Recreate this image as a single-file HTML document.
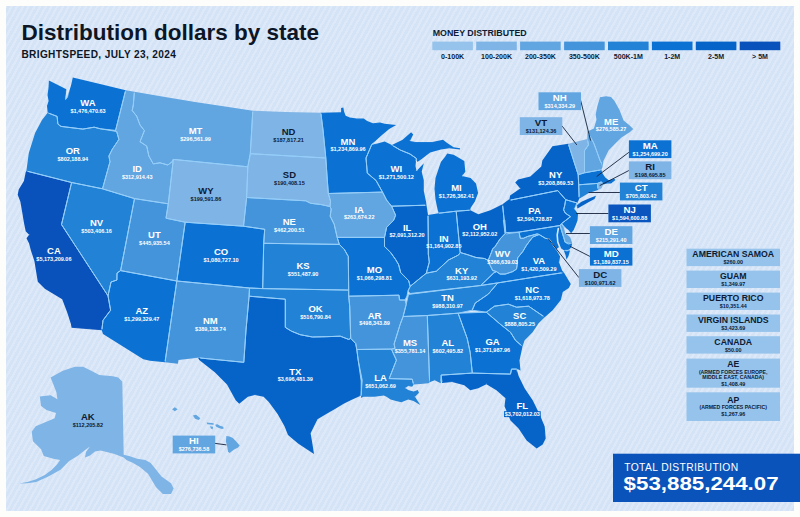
<!DOCTYPE html>
<html><head><meta charset="utf-8">
<style>
html,body{margin:0;padding:0;background:#fdfdfc;}
body{width:800px;height:517px;overflow:hidden;position:relative;font-family:"Liberation Sans",sans-serif;}
#panel{position:absolute;left:6px;top:6px;width:788px;height:505px;background:#d4e3f6;
 background-image:repeating-linear-gradient(-61deg, rgba(255,255,255,0) 0px, rgba(255,255,255,0) 2.8px, rgba(255,255,255,0.22) 2.8px, rgba(255,255,255,0.22) 5.0px);}
svg{position:absolute;left:0;top:0;}
.ab{font-weight:bold;font-size:8.8px;text-anchor:middle;}
.vl{font-weight:bold;font-size:5.3px;text-anchor:middle;}
.tt{font-weight:bold;font-size:9.6px;text-anchor:middle;fill:#0d1b33;}
.ts{font-weight:bold;font-size:5.2px;text-anchor:middle;fill:#0d1b33;}
.tv{font-weight:bold;font-size:5.4px;text-anchor:middle;fill:#0d1b33;}
.lg{font-weight:bold;font-size:6.3px;text-anchor:middle;fill:#0d1b33;}
#title{position:absolute;left:20px;top:15px;font-weight:bold;font-size:23.5px;color:#0d1626;white-space:nowrap;letter-spacing:0px;}
#sub{position:absolute;left:21px;top:49px;font-size:9.6px;color:#0d1626;white-space:nowrap;letter-spacing:0.6px;}
#total{position:absolute;left:613px;top:453.7px;width:187px;height:48.3px;background:#0a4fb5;color:#fff;}
#total .t1{position:absolute;left:11px;top:8px;font-size:9.4px;letter-spacing:0.6px;white-space:nowrap;}
#total .t2{position:absolute;left:10.5px;top:19px;font-size:18px;font-weight:bold;white-space:nowrap;}
</style></head><body>
<div id="panel"></div>
<svg width="800" height="517" viewBox="0 0 800 517">
<text x="21.6" y="39.75" font-weight="bold" font-size="22px" fill="#0d1626" textLength="297.5" lengthAdjust="spacingAndGlyphs">Distribution dollars by state</text>
<text x="21.4" y="57.6" font-weight="bold" font-size="10.1px" fill="#0d1626" textLength="154.5" lengthAdjust="spacing">BRIGHTSPEED, JULY 23, 2024</text>
<text x="432.7" y="36.25" font-weight="bold" font-size="9.3px" fill="#0d1b33" textLength="94" lengthAdjust="spacingAndGlyphs">MONEY DISTRIBUTED</text>
<rect x="432.3" y="41.6" width="40.6" height="8.6" fill="#96c3ec"/><text x="0" y="59.4" class="lg" transform="translate(452.60,0) scale(1.12,1)">0-100K</text><rect x="476.2" y="41.6" width="40.6" height="8.6" fill="#7fb4e6"/><text x="0" y="59.4" class="lg" transform="translate(496.52,0) scale(1.12,1)">100-200K</text><rect x="520.1" y="41.6" width="40.6" height="8.6" fill="#61a5e1"/><text x="0" y="59.4" class="lg" transform="translate(540.44,0) scale(1.12,1)">200-350K</text><rect x="564.1" y="41.6" width="40.6" height="8.6" fill="#4494dc"/><text x="0" y="59.4" class="lg" transform="translate(584.36,0) scale(1.12,1)">350-500K</text><rect x="608.0" y="41.6" width="40.6" height="8.6" fill="#2282d5"/><text x="0" y="59.4" class="lg" transform="translate(628.28,0) scale(1.12,1)">500K-1M</text><rect x="651.9" y="41.6" width="40.6" height="8.6" fill="#0b72d4"/><text x="0" y="59.4" class="lg" transform="translate(672.20,0) scale(1.12,1)">1-2M</text><rect x="695.8" y="41.6" width="40.6" height="8.6" fill="#0664c9"/><text x="0" y="59.4" class="lg" transform="translate(716.12,0) scale(1.12,1)">2-5M</text><rect x="739.7" y="41.6" width="40.6" height="8.6" fill="#0a52bb"/><text x="0" y="59.4" class="lg" transform="translate(760.04,0) scale(1.12,1)">> 5M</text>
<defs>
<filter id="er" filterUnits="userSpaceOnUse" x="0" y="0" width="800" height="517"><feMorphology operator="erode" radius="2.1"/></filter>
<mask id="inner" maskUnits="userSpaceOnUse" x="0" y="0" width="800" height="517"><g filter="url(#er)"><path d="M48.9 80.6 L57.0 84.5 L66.3 89.3 L65.6 99.5 L67.5 97.0 L71.0 85.5 L72.8 77.5 L100.0 84.0 L125.7 90.2 L115.6 130.4 L100.4 128.8 L94.2 127.2 L82.9 129.1 L61.0 126.4 L57.9 124.1 L57.1 116.4 L47.7 112.8 L47.0 106.0 L48.6 101.0 L47.5 95.0 L48.5 88.0Z M47.7 112.8 L57.1 116.4 L57.9 124.1 L61.0 126.4 L82.9 129.1 L94.2 127.2 L100.4 128.8 L116.7 131.5 L118.9 139.4 L112.2 149.4 L108.9 156.1 L110.0 161.7 L102.5 188.8 L71.6 182.5 L26.4 171.0 L28.8 153.0 L35.1 132.9 L42.0 120.0Z M26.4 171.0 L71.6 182.5 L61.5 224.5 L108.0 295.8 L110.6 310.2 L103.0 320.3 L101.8 330.3 L71.6 327.8 L70.9 324.0 L67.4 313.1 L62.2 299.2 L53.5 294.0 L44.8 288.8 L37.8 281.8 L36.1 271.4 L34.4 260.9 L30.9 250.5 L29.1 243.5 L26.5 238.3 L29.1 234.8 L25.7 231.3 L23.9 222.6 L22.2 212.2 L20.4 201.8 L17.7 194.8 L18.7 189.6 L23.9 180.9 L25.7 172.2Z M71.6 182.5 L102.5 188.8 L134.5 198.6 L120.6 270.6 L117.0 273.0 L116.9 280.0 L111.0 282.0 L108.0 295.8 L61.5 224.5Z M125.7 90.2 L134.4 91.7 L133.3 105.0 L132.2 110.6 L136.7 116.1 L140.0 125.0 L144.4 130.6 L140.0 141.7 L146.7 146.1 L148.9 156.1 L153.3 163.9 L160.0 162.8 L167.8 165.0 L172.2 161.7 L173.3 159.4 L168.3 203.8 L134.5 198.6 L102.5 188.8 L110.0 161.7 L108.9 156.1 L112.2 149.4 L118.9 139.4 L116.7 131.5 L115.6 130.4Z M134.4 91.7 L165.0 97.0 L195.0 102.0 L225.0 106.5 L252.8 110.7 L250.3 153.7 L247.8 166.8 L173.3 159.4 L172.2 161.7 L167.8 165.0 L160.0 162.8 L153.3 163.9 L148.9 156.1 L146.7 146.1 L140.0 141.7 L144.4 130.6 L140.0 125.0 L136.7 116.1 L132.2 110.6 L133.3 105.0Z M173.3 159.4 L247.8 166.8 L246.6 197.5 L243.5 226.2 L185.2 222.2 L166.0 218.2 L168.3 203.8Z M134.5 198.6 L168.3 203.8 L166.0 218.2 L185.2 222.2 L176.8 281.0 L120.6 270.6Z M120.6 270.6 L176.8 281.0 L165.0 362.3 L150.0 360.8 L143.3 359.3 L103.0 334.1 L101.8 330.3 L103.0 320.3 L110.6 310.2 L108.0 295.8 L111.0 282.0 L116.9 280.0 L117.0 273.0Z M185.2 222.2 L243.5 226.2 L264.7 229.3 L263.7 243.3 L262.7 288.6 L249.5 288.0 L176.8 281.0Z M176.8 281.0 L249.5 288.0 L249.1 296.2 L246.0 330.0 L243.8 362.3 L198.0 357.8 L178.5 360.0 L177.8 363.8 L165.0 362.3Z M252.8 110.7 L285.0 112.0 L320.8 112.7 L323.0 130.0 L324.5 145.0 L325.8 158.0 L250.3 153.7Z M250.3 153.7 L325.8 158.0 L327.0 176.0 L328.3 193.5 L330.5 201.0 L330.0 206.5 L320.8 204.5 L310.7 203.3 L305.7 200.8 L246.6 197.5 L247.8 166.8Z M246.6 197.5 L305.7 200.8 L310.7 203.3 L320.8 204.5 L330.0 206.5 L331.2 209.0 L330.2 216.2 L334.2 224.3 L337.2 237.4 L339.3 244.4 L263.7 243.3 L264.7 229.3 L243.5 226.2Z M263.7 243.3 L339.3 244.4 L344.3 249.4 L348.3 256.5 L348.7 290.1 L262.7 288.6Z M249.5 288.0 L262.7 288.6 L348.7 290.1 L348.7 296.2 L349.7 306.2 L350.7 338.4 L348.7 339.4 L340.3 336.2 L326.3 336.7 L312.4 337.0 L300.2 334.7 L291.5 331.2 L285.3 327.4 L285.3 299.2 L249.1 296.2Z M249.1 296.2 L285.3 299.2 L285.3 327.4 L291.5 331.2 L300.2 334.7 L312.4 337.0 L326.3 336.7 L340.3 336.2 L348.7 339.4 L350.7 338.4 L355.7 343.5 L356.8 349.5 L358.2 360.2 L361.2 381.0 L361.2 395.5 L350.7 400.2 L343.7 403.7 L335.0 408.9 L326.3 414.0 L317.5 419.3 L310.6 433.2 L312.4 443.7 L314.0 454.1 L298.4 443.7 L288.0 435.0 L284.5 426.3 L277.6 414.0 L268.8 401.9 L263.6 396.7 L254.9 395.0 L247.9 396.7 L239.2 403.7 L235.7 400.2 L227.0 384.5 L214.8 372.3 L199.2 360.1 L198.0 357.8 L243.8 362.3 L246.0 330.0Z M320.8 112.7 L341.1 112.2 L341.1 108.1 L343.4 107.5 L344.0 111.6 L345.7 115.7 L349.8 117.4 L356.8 118.6 L363.7 118.6 L367.2 120.9 L373.0 123.2 L380.0 122.6 L384.6 123.8 L391.6 124.4 L396.2 125.0 L389.2 129.0 L382.3 134.8 L376.5 140.0 L371.8 144.4 L366.0 158.0 L367.3 173.1 L376.1 180.6 L382.5 192.1 L328.3 193.5 L327.0 176.0 L325.8 158.0 L324.5 145.0 L323.0 130.0Z M371.8 144.4 L377.6 143.6 L384.6 141.4 L391.9 145.1 L400.2 150.0 L410.0 154.0 L416.3 158.4 L415.5 166.0 L416.5 171.0 L423.8 163.2 L421.7 171.7 L423.8 180.2 L423.8 190.9 L426.0 201.5 L426.5 205.2 L391.6 206.2 L386.6 200.1 L382.5 192.1 L376.1 180.6 L367.3 173.1 L366.0 158.0Z M391.9 145.1 L402.6 139.8 L411.1 132.3 L413.2 134.5 L410.0 140.9 L415.3 141.9 L423.8 141.9 L432.3 141.9 L443.0 139.8 L447.2 143.0 L453.6 147.2 L460.0 148.3 L460.0 149.4 L449.4 148.3 L440.9 149.4 L430.2 152.6 L421.7 158.9 L417.4 162.0 L416.3 158.4 L410.0 154.0 L400.2 150.0Z M447.2 153.6 L453.6 154.7 L464.3 161.1 L465.3 171.7 L462.1 176.0 L470.6 178.1 L476.0 183.4 L478.1 193.0 L474.9 201.5 L470.6 207.9 L470.3 210.2 L456.2 211.2 L438.8 213.2 L437.7 210.0 L435.5 199.4 L434.5 188.7 L435.5 178.1 L438.7 168.5 L440.9 162.1 L445.1 156.8Z M328.3 193.5 L382.5 192.1 L386.6 200.1 L391.6 206.2 L395.6 215.2 L393.6 220.3 L386.6 227.3 L384.5 237.4 L337.2 237.4 L334.2 224.3 L330.2 216.2 L331.2 209.0 L330.0 206.5 L330.5 201.0Z M337.2 237.4 L384.5 237.4 L384.5 246.4 L390.6 252.5 L395.6 259.5 L398.6 264.6 L400.7 272.6 L408.7 280.7 L410.2 286.3 L408.0 291.0 L407.0 296.0 L405.0 300.0 L399.5 300.0 L399.0 295.2 L348.7 296.2 L348.7 290.1 L348.3 256.5 L344.3 249.4 L339.3 244.4Z M391.6 206.2 L426.5 205.2 L428.0 215.0 L428.3 240.0 L428.3 254.1 L429.3 262.1 L426.3 273.2 L410.2 286.3 L408.7 280.7 L400.7 272.6 L398.6 264.6 L395.6 259.5 L390.6 252.5 L384.5 246.4 L384.5 237.4 L386.6 227.3 L393.6 220.3 L395.6 215.2Z M428.0 215.0 L438.8 213.2 L456.2 211.2 L460.2 252.5 L458.5 255.0 L448.4 260.1 L436.4 271.2 L426.3 273.2 L429.3 262.1 L428.3 254.1 L428.3 240.0Z M456.2 211.2 L470.3 210.2 L478.3 214.2 L490.4 210.2 L500.5 205.2 L502.5 204.2 L505.5 233.3 L500.1 238.9 L497.6 242.7 L495.1 246.5 L492.6 249.0 L491.3 252.7 L488.2 260.3 L484.4 258.5 L476.0 257.5 L467.0 254.5 L460.2 252.5Z M410.2 286.3 L426.3 273.2 L436.4 271.2 L448.4 260.1 L458.5 255.0 L460.2 252.5 L467.0 254.5 L476.0 257.5 L484.4 258.5 L488.2 260.3 L490.1 265.3 L492.6 270.4 L496.4 271.6 L493.7 273.0 L480.7 285.5 L410.0 293.5 L408.0 291.0Z M408.5 294.4 L480.7 285.5 L497.8 282.9 L488.3 294.1 L475.2 303.1 L472.2 310.2 L458.1 313.2 L427.3 315.5 L403.1 316.5 L406.2 304.4Z M503.4 220.0 L504.8 220.0 L505.8 232.6 L519.0 232.1 L520.3 238.3 L523.4 238.3 L527.8 236.4 L532.8 235.1 L537.2 233.9 L539.1 234.5 L532.8 237.0 L530.3 240.2 L526.5 245.2 L522.8 251.5 L517.7 257.8 L517.1 265.3 L516.5 269.1 L512.7 271.6 L505.2 274.1 L500.1 274.1 L496.4 271.6 L492.6 270.4 L490.1 265.3 L488.2 260.3 L491.3 252.7 L492.6 249.0 L495.1 246.5 L497.6 242.7 L500.1 238.9 L505.0 233.6Z M539.1 234.5 L545.4 238.3 L549.2 238.9 L553.0 245.0 L556.1 249.4 L560.1 256.4 L559.1 262.5 L562.1 270.5 L563.9 272.5 L540.0 276.2 L497.8 282.9 L480.7 285.5 L493.7 273.0 L496.4 271.6 L500.1 274.1 L505.2 274.1 L512.7 271.6 L516.5 269.1 L517.1 265.3 L517.7 257.8 L522.8 251.5 L526.5 245.2 L530.3 240.2 L532.8 237.0Z M497.8 282.9 L540.0 276.2 L563.9 272.5 L566.0 276.0 L570.8 284.0 L568.8 288.1 L562.8 292.1 L560.8 300.1 L552.7 310.2 L544.7 317.2 L528.6 306.2 L516.5 307.2 L508.4 304.2 L494.4 306.2 L486.3 312.2 L472.2 310.2 L475.2 303.1 L488.3 294.1Z M486.3 312.2 L494.4 306.2 L508.4 304.2 L516.5 307.2 L528.6 306.2 L544.7 317.2 L538.6 323.3 L532.6 332.3 L524.5 340.4 L522.5 346.4 L515.5 340.4 L510.5 332.3 L500.4 324.3Z M458.1 313.2 L486.3 312.2 L500.4 324.3 L510.5 332.3 L515.5 340.4 L522.5 346.4 L519.5 360.5 L520.5 370.6 L516.6 369.1 L511.5 369.1 L510.5 374.1 L472.3 373.1 L470.2 352.5 L467.2 338.4Z M441.1 375.1 L472.3 373.1 L510.5 374.1 L511.5 369.1 L516.6 369.1 L518.6 376.1 L524.6 388.2 L532.7 400.3 L539.7 414.4 L544.7 426.4 L545.7 438.5 L542.7 444.5 L536.7 448.6 L526.6 440.5 L518.6 428.4 L510.5 420.4 L504.5 406.3 L505.5 398.2 L496.4 390.2 L486.4 384.2 L478.3 388.2 L470.3 390.2 L464.2 385.2 L452.1 382.1 L442.1 383.1Z M427.3 315.5 L458.1 313.2 L467.2 338.4 L470.2 352.5 L472.3 373.1 L441.1 375.1 L440.7 383.3 L434.7 380.3 L429.6 382.3Z M403.1 316.5 L427.3 315.5 L429.6 382.3 L428.5 383.3 L420.4 384.0 L413.6 384.6 L412.2 379.2 L389.2 378.6 L396.4 360.2 L391.4 349.1 L395.0 348.5 L394.1 344.0 L400.1 324.5Z M356.8 349.5 L391.4 349.1 L396.4 360.2 L389.2 378.6 L412.2 379.2 L413.6 384.6 L412.2 386.7 L408.2 386.0 L405.5 388.0 L408.2 390.1 L413.6 391.4 L417.7 390.1 L419.0 392.8 L415.0 396.8 L417.7 400.9 L420.4 404.9 L417.7 403.6 L413.6 400.9 L408.2 399.5 L401.4 402.2 L396.0 400.9 L390.6 399.5 L386.5 396.8 L383.8 395.5 L374.4 396.8 L363.5 396.8 L360.9 397.9 L362.2 380.3 L358.2 360.2Z M348.7 296.2 L399.0 295.2 L399.5 300.0 L405.0 300.0 L406.2 304.4 L403.1 316.5 L400.1 324.5 L394.1 344.0 L395.0 348.5 L391.4 349.1 L356.8 349.5 L355.7 343.5 L350.7 338.4 L349.7 306.2Z M502.5 204.2 L509.5 199.1 L510.5 200.1 L557.8 190.6 L565.7 199.7 L564.7 205.5 L563.6 209.8 L565.2 213.0 L570.5 216.7 L565.7 220.4 L561.5 223.6 L560.1 225.5 L519.0 232.1 L506.5 233.9 L505.5 233.3Z M510.5 200.1 L509.5 199.1 L510.1 195.6 L520.2 188.6 L515.2 182.5 L518.2 179.5 L530.3 176.5 L541.3 166.4 L542.3 160.4 L552.4 146.3 L568.3 143.8 L578.2 174.7 L578.7 184.8 L579.2 198.8 L577.5 202.9 L576.9 202.9 L565.7 199.7 L557.8 190.6Z M576.5 205.0 L582.0 201.5 L590.0 198.0 L596.0 195.8 L594.5 199.0 L588.0 202.5 L581.0 206.5 L577.5 208.5Z M565.7 199.7 L576.9 202.9 L575.9 205.5 L574.3 208.7 L575.9 210.9 L578.0 214.0 L577.5 220.4 L575.9 224.7 L573.7 230.0 L571.1 233.2 L568.4 230.0 L564.2 226.8 L561.5 223.6 L565.7 220.4 L570.5 216.7 L565.2 213.0 L563.6 209.8 L564.7 205.5Z M561.5 223.6 L563.8 227.2 L565.2 233.3 L570.2 237.3 L572.2 243.3 L568.2 244.0 L565.2 242.3 L562.1 232.3 L560.1 225.5Z M519.0 232.1 L560.1 225.5 L562.1 232.3 L565.2 242.3 L572.2 243.8 L571.2 247.4 L568.2 250.4 L564.2 250.4 L559.1 247.0 L556.1 249.4 L553.0 245.0 L549.2 238.9 L545.4 238.3 L539.1 234.5 L537.2 233.9 L532.8 235.1 L527.8 236.4 L523.4 238.3 L520.3 238.3Z M564.0 251.0 L570.0 250.5 L568.5 256.0 L566.5 259.5 L565.5 255.0Z M568.3 143.8 L587.4 139.1 L588.5 144.9 L584.5 150.7 L584.5 172.8 L578.2 174.7Z M587.4 131.6 L593.8 143.2 L597.2 152.5 L600.1 160.6 L601.9 164.0 L602.6 167.0 L601.3 169.8 L584.5 172.8 L584.5 150.7 L588.5 144.9 L587.4 139.1Z M600.0 97.2 L606.1 96.3 L611.0 97.0 L614.5 101.0 L619.4 109.8 L623.6 120.4 L630.0 125.7 L633.2 128.9 L630.0 132.1 L621.5 137.4 L615.1 143.8 L608.7 150.2 L603.4 160.9 L602.6 167.0 L601.9 164.0 L600.1 160.6 L597.2 152.5 L593.8 143.2 L587.4 131.6 L593.9 128.5 L596.5 119.8 L595.7 114.6 L597.4 105.9Z M578.2 174.7 L584.5 172.8 L601.3 169.8 L602.4 173.2 L605.3 177.6 L609.1 180.5 L614.0 178.5 L615.4 180.0 L611.1 183.4 L607.2 183.4 L603.3 184.4 L601.4 181.9 L597.5 183.4 L578.7 184.8Z M597.5 183.4 L601.4 181.9 L603.3 184.4 L601.5 188.2 L598.0 190.1Z M578.7 184.8 L597.5 183.4 L598.0 190.1 L588.8 193.0 L579.2 198.8Z" fill="#fff" stroke="#fff" stroke-width="2.2" stroke-linejoin="round"/></g></mask>
</defs>
<g>
<path d="M48.9 80.6 L57.0 84.5 L66.3 89.3 L65.6 99.5 L67.5 97.0 L71.0 85.5 L72.8 77.5 L100.0 84.0 L125.7 90.2 L115.6 130.4 L100.4 128.8 L94.2 127.2 L82.9 129.1 L61.0 126.4 L57.9 124.1 L57.1 116.4 L47.7 112.8 L47.0 106.0 L48.6 101.0 L47.5 95.0 L48.5 88.0Z" fill="#0b72d4"/>
<path d="M47.7 112.8 L57.1 116.4 L57.9 124.1 L61.0 126.4 L82.9 129.1 L94.2 127.2 L100.4 128.8 L116.7 131.5 L118.9 139.4 L112.2 149.4 L108.9 156.1 L110.0 161.7 L102.5 188.8 L71.6 182.5 L26.4 171.0 L28.8 153.0 L35.1 132.9 L42.0 120.0Z" fill="#2282d5"/>
<path d="M26.4 171.0 L71.6 182.5 L61.5 224.5 L108.0 295.8 L110.6 310.2 L103.0 320.3 L101.8 330.3 L71.6 327.8 L70.9 324.0 L67.4 313.1 L62.2 299.2 L53.5 294.0 L44.8 288.8 L37.8 281.8 L36.1 271.4 L34.4 260.9 L30.9 250.5 L29.1 243.5 L26.5 238.3 L29.1 234.8 L25.7 231.3 L23.9 222.6 L22.2 212.2 L20.4 201.8 L17.7 194.8 L18.7 189.6 L23.9 180.9 L25.7 172.2Z" fill="#0a52bb"/>
<path d="M71.6 182.5 L102.5 188.8 L134.5 198.6 L120.6 270.6 L117.0 273.0 L116.9 280.0 L111.0 282.0 L108.0 295.8 L61.5 224.5Z" fill="#2282d5"/>
<path d="M125.7 90.2 L134.4 91.7 L133.3 105.0 L132.2 110.6 L136.7 116.1 L140.0 125.0 L144.4 130.6 L140.0 141.7 L146.7 146.1 L148.9 156.1 L153.3 163.9 L160.0 162.8 L167.8 165.0 L172.2 161.7 L173.3 159.4 L168.3 203.8 L134.5 198.6 L102.5 188.8 L110.0 161.7 L108.9 156.1 L112.2 149.4 L118.9 139.4 L116.7 131.5 L115.6 130.4Z" fill="#61a5e1"/>
<path d="M134.4 91.7 L165.0 97.0 L195.0 102.0 L225.0 106.5 L252.8 110.7 L250.3 153.7 L247.8 166.8 L173.3 159.4 L172.2 161.7 L167.8 165.0 L160.0 162.8 L153.3 163.9 L148.9 156.1 L146.7 146.1 L140.0 141.7 L144.4 130.6 L140.0 125.0 L136.7 116.1 L132.2 110.6 L133.3 105.0Z" fill="#61a5e1"/>
<path d="M173.3 159.4 L247.8 166.8 L246.6 197.5 L243.5 226.2 L185.2 222.2 L166.0 218.2 L168.3 203.8Z" fill="#7fb4e6"/>
<path d="M134.5 198.6 L168.3 203.8 L166.0 218.2 L185.2 222.2 L176.8 281.0 L120.6 270.6Z" fill="#4494dc"/>
<path d="M120.6 270.6 L176.8 281.0 L165.0 362.3 L150.0 360.8 L143.3 359.3 L103.0 334.1 L101.8 330.3 L103.0 320.3 L110.6 310.2 L108.0 295.8 L111.0 282.0 L116.9 280.0 L117.0 273.0Z" fill="#0b72d4"/>
<path d="M185.2 222.2 L243.5 226.2 L264.7 229.3 L263.7 243.3 L262.7 288.6 L249.5 288.0 L176.8 281.0Z" fill="#0b72d4"/>
<path d="M176.8 281.0 L249.5 288.0 L249.1 296.2 L246.0 330.0 L243.8 362.3 L198.0 357.8 L178.5 360.0 L177.8 363.8 L165.0 362.3Z" fill="#4494dc"/>
<path d="M252.8 110.7 L285.0 112.0 L320.8 112.7 L323.0 130.0 L324.5 145.0 L325.8 158.0 L250.3 153.7Z" fill="#7fb4e6"/>
<path d="M250.3 153.7 L325.8 158.0 L327.0 176.0 L328.3 193.5 L330.5 201.0 L330.0 206.5 L320.8 204.5 L310.7 203.3 L305.7 200.8 L246.6 197.5 L247.8 166.8Z" fill="#7fb4e6"/>
<path d="M246.6 197.5 L305.7 200.8 L310.7 203.3 L320.8 204.5 L330.0 206.5 L331.2 209.0 L330.2 216.2 L334.2 224.3 L337.2 237.4 L339.3 244.4 L263.7 243.3 L264.7 229.3 L243.5 226.2Z" fill="#4494dc"/>
<path d="M263.7 243.3 L339.3 244.4 L344.3 249.4 L348.3 256.5 L348.7 290.1 L262.7 288.6Z" fill="#2282d5"/>
<path d="M249.5 288.0 L262.7 288.6 L348.7 290.1 L348.7 296.2 L349.7 306.2 L350.7 338.4 L348.7 339.4 L340.3 336.2 L326.3 336.7 L312.4 337.0 L300.2 334.7 L291.5 331.2 L285.3 327.4 L285.3 299.2 L249.1 296.2Z" fill="#2282d5"/>
<path d="M249.1 296.2 L285.3 299.2 L285.3 327.4 L291.5 331.2 L300.2 334.7 L312.4 337.0 L326.3 336.7 L340.3 336.2 L348.7 339.4 L350.7 338.4 L355.7 343.5 L356.8 349.5 L358.2 360.2 L361.2 381.0 L361.2 395.5 L350.7 400.2 L343.7 403.7 L335.0 408.9 L326.3 414.0 L317.5 419.3 L310.6 433.2 L312.4 443.7 L314.0 454.1 L298.4 443.7 L288.0 435.0 L284.5 426.3 L277.6 414.0 L268.8 401.9 L263.6 396.7 L254.9 395.0 L247.9 396.7 L239.2 403.7 L235.7 400.2 L227.0 384.5 L214.8 372.3 L199.2 360.1 L198.0 357.8 L243.8 362.3 L246.0 330.0Z" fill="#0664c9"/>
<path d="M320.8 112.7 L341.1 112.2 L341.1 108.1 L343.4 107.5 L344.0 111.6 L345.7 115.7 L349.8 117.4 L356.8 118.6 L363.7 118.6 L367.2 120.9 L373.0 123.2 L380.0 122.6 L384.6 123.8 L391.6 124.4 L396.2 125.0 L389.2 129.0 L382.3 134.8 L376.5 140.0 L371.8 144.4 L366.0 158.0 L367.3 173.1 L376.1 180.6 L382.5 192.1 L328.3 193.5 L327.0 176.0 L325.8 158.0 L324.5 145.0 L323.0 130.0Z" fill="#0b72d4"/>
<path d="M371.8 144.4 L377.6 143.6 L384.6 141.4 L391.9 145.1 L400.2 150.0 L410.0 154.0 L416.3 158.4 L415.5 166.0 L416.5 171.0 L423.8 163.2 L421.7 171.7 L423.8 180.2 L423.8 190.9 L426.0 201.5 L426.5 205.2 L391.6 206.2 L386.6 200.1 L382.5 192.1 L376.1 180.6 L367.3 173.1 L366.0 158.0Z" fill="#0b72d4"/>
<path d="M391.9 145.1 L402.6 139.8 L411.1 132.3 L413.2 134.5 L410.0 140.9 L415.3 141.9 L423.8 141.9 L432.3 141.9 L443.0 139.8 L447.2 143.0 L453.6 147.2 L460.0 148.3 L460.0 149.4 L449.4 148.3 L440.9 149.4 L430.2 152.6 L421.7 158.9 L417.4 162.0 L416.3 158.4 L410.0 154.0 L400.2 150.0Z" fill="#0b72d4"/>
<path d="M447.2 153.6 L453.6 154.7 L464.3 161.1 L465.3 171.7 L462.1 176.0 L470.6 178.1 L476.0 183.4 L478.1 193.0 L474.9 201.5 L470.6 207.9 L470.3 210.2 L456.2 211.2 L438.8 213.2 L437.7 210.0 L435.5 199.4 L434.5 188.7 L435.5 178.1 L438.7 168.5 L440.9 162.1 L445.1 156.8Z" fill="#0b72d4"/>
<path d="M328.3 193.5 L382.5 192.1 L386.6 200.1 L391.6 206.2 L395.6 215.2 L393.6 220.3 L386.6 227.3 L384.5 237.4 L337.2 237.4 L334.2 224.3 L330.2 216.2 L331.2 209.0 L330.0 206.5 L330.5 201.0Z" fill="#61a5e1"/>
<path d="M337.2 237.4 L384.5 237.4 L384.5 246.4 L390.6 252.5 L395.6 259.5 L398.6 264.6 L400.7 272.6 L408.7 280.7 L410.2 286.3 L408.0 291.0 L407.0 296.0 L405.0 300.0 L399.5 300.0 L399.0 295.2 L348.7 296.2 L348.7 290.1 L348.3 256.5 L344.3 249.4 L339.3 244.4Z" fill="#0b72d4"/>
<path d="M391.6 206.2 L426.5 205.2 L428.0 215.0 L428.3 240.0 L428.3 254.1 L429.3 262.1 L426.3 273.2 L410.2 286.3 L408.7 280.7 L400.7 272.6 L398.6 264.6 L395.6 259.5 L390.6 252.5 L384.5 246.4 L384.5 237.4 L386.6 227.3 L393.6 220.3 L395.6 215.2Z" fill="#0664c9"/>
<path d="M428.0 215.0 L438.8 213.2 L456.2 211.2 L460.2 252.5 L458.5 255.0 L448.4 260.1 L436.4 271.2 L426.3 273.2 L429.3 262.1 L428.3 254.1 L428.3 240.0Z" fill="#0b72d4"/>
<path d="M456.2 211.2 L470.3 210.2 L478.3 214.2 L490.4 210.2 L500.5 205.2 L502.5 204.2 L505.5 233.3 L500.1 238.9 L497.6 242.7 L495.1 246.5 L492.6 249.0 L491.3 252.7 L488.2 260.3 L484.4 258.5 L476.0 257.5 L467.0 254.5 L460.2 252.5Z" fill="#0664c9"/>
<path d="M410.2 286.3 L426.3 273.2 L436.4 271.2 L448.4 260.1 L458.5 255.0 L460.2 252.5 L467.0 254.5 L476.0 257.5 L484.4 258.5 L488.2 260.3 L490.1 265.3 L492.6 270.4 L496.4 271.6 L493.7 273.0 L480.7 285.5 L410.0 293.5 L408.0 291.0Z" fill="#2282d5"/>
<path d="M408.5 294.4 L480.7 285.5 L497.8 282.9 L488.3 294.1 L475.2 303.1 L472.2 310.2 L458.1 313.2 L427.3 315.5 L403.1 316.5 L406.2 304.4Z" fill="#2282d5"/>
<path d="M503.4 220.0 L504.8 220.0 L505.8 232.6 L519.0 232.1 L520.3 238.3 L523.4 238.3 L527.8 236.4 L532.8 235.1 L537.2 233.9 L539.1 234.5 L532.8 237.0 L530.3 240.2 L526.5 245.2 L522.8 251.5 L517.7 257.8 L517.1 265.3 L516.5 269.1 L512.7 271.6 L505.2 274.1 L500.1 274.1 L496.4 271.6 L492.6 270.4 L490.1 265.3 L488.2 260.3 L491.3 252.7 L492.6 249.0 L495.1 246.5 L497.6 242.7 L500.1 238.9 L505.0 233.6Z" fill="#4494dc"/>
<path d="M539.1 234.5 L545.4 238.3 L549.2 238.9 L553.0 245.0 L556.1 249.4 L560.1 256.4 L559.1 262.5 L562.1 270.5 L563.9 272.5 L540.0 276.2 L497.8 282.9 L480.7 285.5 L493.7 273.0 L496.4 271.6 L500.1 274.1 L505.2 274.1 L512.7 271.6 L516.5 269.1 L517.1 265.3 L517.7 257.8 L522.8 251.5 L526.5 245.2 L530.3 240.2 L532.8 237.0Z" fill="#0b72d4"/>
<path d="M497.8 282.9 L540.0 276.2 L563.9 272.5 L566.0 276.0 L570.8 284.0 L568.8 288.1 L562.8 292.1 L560.8 300.1 L552.7 310.2 L544.7 317.2 L528.6 306.2 L516.5 307.2 L508.4 304.2 L494.4 306.2 L486.3 312.2 L472.2 310.2 L475.2 303.1 L488.3 294.1Z" fill="#0b72d4"/>
<path d="M486.3 312.2 L494.4 306.2 L508.4 304.2 L516.5 307.2 L528.6 306.2 L544.7 317.2 L538.6 323.3 L532.6 332.3 L524.5 340.4 L522.5 346.4 L515.5 340.4 L510.5 332.3 L500.4 324.3Z" fill="#2282d5"/>
<path d="M458.1 313.2 L486.3 312.2 L500.4 324.3 L510.5 332.3 L515.5 340.4 L522.5 346.4 L519.5 360.5 L520.5 370.6 L516.6 369.1 L511.5 369.1 L510.5 374.1 L472.3 373.1 L470.2 352.5 L467.2 338.4Z" fill="#0b72d4"/>
<path d="M441.1 375.1 L472.3 373.1 L510.5 374.1 L511.5 369.1 L516.6 369.1 L518.6 376.1 L524.6 388.2 L532.7 400.3 L539.7 414.4 L544.7 426.4 L545.7 438.5 L542.7 444.5 L536.7 448.6 L526.6 440.5 L518.6 428.4 L510.5 420.4 L504.5 406.3 L505.5 398.2 L496.4 390.2 L486.4 384.2 L478.3 388.2 L470.3 390.2 L464.2 385.2 L452.1 382.1 L442.1 383.1Z" fill="#0664c9"/>
<path d="M427.3 315.5 L458.1 313.2 L467.2 338.4 L470.2 352.5 L472.3 373.1 L441.1 375.1 L440.7 383.3 L434.7 380.3 L429.6 382.3Z" fill="#2282d5"/>
<path d="M403.1 316.5 L427.3 315.5 L429.6 382.3 L428.5 383.3 L420.4 384.0 L413.6 384.6 L412.2 379.2 L389.2 378.6 L396.4 360.2 L391.4 349.1 L395.0 348.5 L394.1 344.0 L400.1 324.5Z" fill="#4494dc"/>
<path d="M356.8 349.5 L391.4 349.1 L396.4 360.2 L389.2 378.6 L412.2 379.2 L413.6 384.6 L412.2 386.7 L408.2 386.0 L405.5 388.0 L408.2 390.1 L413.6 391.4 L417.7 390.1 L419.0 392.8 L415.0 396.8 L417.7 400.9 L420.4 404.9 L417.7 403.6 L413.6 400.9 L408.2 399.5 L401.4 402.2 L396.0 400.9 L390.6 399.5 L386.5 396.8 L383.8 395.5 L374.4 396.8 L363.5 396.8 L360.9 397.9 L362.2 380.3 L358.2 360.2Z" fill="#2282d5"/>
<path d="M348.7 296.2 L399.0 295.2 L399.5 300.0 L405.0 300.0 L406.2 304.4 L403.1 316.5 L400.1 324.5 L394.1 344.0 L395.0 348.5 L391.4 349.1 L356.8 349.5 L355.7 343.5 L350.7 338.4 L349.7 306.2Z" fill="#4494dc"/>
<path d="M502.5 204.2 L509.5 199.1 L510.5 200.1 L557.8 190.6 L565.7 199.7 L564.7 205.5 L563.6 209.8 L565.2 213.0 L570.5 216.7 L565.7 220.4 L561.5 223.6 L560.1 225.5 L519.0 232.1 L506.5 233.9 L505.5 233.3Z" fill="#0664c9"/>
<path d="M510.5 200.1 L509.5 199.1 L510.1 195.6 L520.2 188.6 L515.2 182.5 L518.2 179.5 L530.3 176.5 L541.3 166.4 L542.3 160.4 L552.4 146.3 L568.3 143.8 L578.2 174.7 L578.7 184.8 L579.2 198.8 L577.5 202.9 L576.9 202.9 L565.7 199.7 L557.8 190.6Z" fill="#0664c9"/>
<path d="M576.5 205.0 L582.0 201.5 L590.0 198.0 L596.0 195.8 L594.5 199.0 L588.0 202.5 L581.0 206.5 L577.5 208.5Z" fill="#0664c9"/>
<path d="M565.7 199.7 L576.9 202.9 L575.9 205.5 L574.3 208.7 L575.9 210.9 L578.0 214.0 L577.5 220.4 L575.9 224.7 L573.7 230.0 L571.1 233.2 L568.4 230.0 L564.2 226.8 L561.5 223.6 L565.7 220.4 L570.5 216.7 L565.2 213.0 L563.6 209.8 L564.7 205.5Z" fill="#0b72d4"/>
<path d="M561.5 223.6 L563.8 227.2 L565.2 233.3 L570.2 237.3 L572.2 243.3 L568.2 244.0 L565.2 242.3 L562.1 232.3 L560.1 225.5Z" fill="#61a5e1"/>
<path d="M519.0 232.1 L560.1 225.5 L562.1 232.3 L565.2 242.3 L572.2 243.8 L571.2 247.4 L568.2 250.4 L564.2 250.4 L559.1 247.0 L556.1 249.4 L553.0 245.0 L549.2 238.9 L545.4 238.3 L539.1 234.5 L537.2 233.9 L532.8 235.1 L527.8 236.4 L523.4 238.3 L520.3 238.3Z" fill="#0b72d4"/>
<path d="M564.0 251.0 L570.0 250.5 L568.5 256.0 L566.5 259.5 L565.5 255.0Z" fill="#0b72d4"/>
<path d="M568.3 143.8 L587.4 139.1 L588.5 144.9 L584.5 150.7 L584.5 172.8 L578.2 174.7Z" fill="#7fb4e6"/>
<path d="M587.4 131.6 L593.8 143.2 L597.2 152.5 L600.1 160.6 L601.9 164.0 L602.6 167.0 L601.3 169.8 L584.5 172.8 L584.5 150.7 L588.5 144.9 L587.4 139.1Z" fill="#61a5e1"/>
<path d="M600.0 97.2 L606.1 96.3 L611.0 97.0 L614.5 101.0 L619.4 109.8 L623.6 120.4 L630.0 125.7 L633.2 128.9 L630.0 132.1 L621.5 137.4 L615.1 143.8 L608.7 150.2 L603.4 160.9 L602.6 167.0 L601.9 164.0 L600.1 160.6 L597.2 152.5 L593.8 143.2 L587.4 131.6 L593.9 128.5 L596.5 119.8 L595.7 114.6 L597.4 105.9Z" fill="#61a5e1"/>
<path d="M578.2 174.7 L584.5 172.8 L601.3 169.8 L602.4 173.2 L605.3 177.6 L609.1 180.5 L614.0 178.5 L615.4 180.0 L611.1 183.4 L607.2 183.4 L603.3 184.4 L601.4 181.9 L597.5 183.4 L578.7 184.8Z" fill="#0b72d4"/>
<path d="M597.5 183.4 L601.4 181.9 L603.3 184.4 L601.5 188.2 L598.0 190.1Z" fill="#7fb4e6"/>
<path d="M578.7 184.8 L597.5 183.4 L598.0 190.1 L588.8 193.0 L579.2 198.8Z" fill="#2282d5"/>
</g>
<g stroke="#94cdf8" stroke-width="1" stroke-linejoin="round" mask="url(#inner)"><path d="M48.9 80.6 L57.0 84.5 L66.3 89.3 L65.6 99.5 L67.5 97.0 L71.0 85.5 L72.8 77.5 L100.0 84.0 L125.7 90.2 L115.6 130.4 L100.4 128.8 L94.2 127.2 L82.9 129.1 L61.0 126.4 L57.9 124.1 L57.1 116.4 L47.7 112.8 L47.0 106.0 L48.6 101.0 L47.5 95.0 L48.5 88.0Z M47.7 112.8 L57.1 116.4 L57.9 124.1 L61.0 126.4 L82.9 129.1 L94.2 127.2 L100.4 128.8 L116.7 131.5 L118.9 139.4 L112.2 149.4 L108.9 156.1 L110.0 161.7 L102.5 188.8 L71.6 182.5 L26.4 171.0 L28.8 153.0 L35.1 132.9 L42.0 120.0Z M26.4 171.0 L71.6 182.5 L61.5 224.5 L108.0 295.8 L110.6 310.2 L103.0 320.3 L101.8 330.3 L71.6 327.8 L70.9 324.0 L67.4 313.1 L62.2 299.2 L53.5 294.0 L44.8 288.8 L37.8 281.8 L36.1 271.4 L34.4 260.9 L30.9 250.5 L29.1 243.5 L26.5 238.3 L29.1 234.8 L25.7 231.3 L23.9 222.6 L22.2 212.2 L20.4 201.8 L17.7 194.8 L18.7 189.6 L23.9 180.9 L25.7 172.2Z M71.6 182.5 L102.5 188.8 L134.5 198.6 L120.6 270.6 L117.0 273.0 L116.9 280.0 L111.0 282.0 L108.0 295.8 L61.5 224.5Z M125.7 90.2 L134.4 91.7 L133.3 105.0 L132.2 110.6 L136.7 116.1 L140.0 125.0 L144.4 130.6 L140.0 141.7 L146.7 146.1 L148.9 156.1 L153.3 163.9 L160.0 162.8 L167.8 165.0 L172.2 161.7 L173.3 159.4 L168.3 203.8 L134.5 198.6 L102.5 188.8 L110.0 161.7 L108.9 156.1 L112.2 149.4 L118.9 139.4 L116.7 131.5 L115.6 130.4Z M134.4 91.7 L165.0 97.0 L195.0 102.0 L225.0 106.5 L252.8 110.7 L250.3 153.7 L247.8 166.8 L173.3 159.4 L172.2 161.7 L167.8 165.0 L160.0 162.8 L153.3 163.9 L148.9 156.1 L146.7 146.1 L140.0 141.7 L144.4 130.6 L140.0 125.0 L136.7 116.1 L132.2 110.6 L133.3 105.0Z M173.3 159.4 L247.8 166.8 L246.6 197.5 L243.5 226.2 L185.2 222.2 L166.0 218.2 L168.3 203.8Z M134.5 198.6 L168.3 203.8 L166.0 218.2 L185.2 222.2 L176.8 281.0 L120.6 270.6Z M120.6 270.6 L176.8 281.0 L165.0 362.3 L150.0 360.8 L143.3 359.3 L103.0 334.1 L101.8 330.3 L103.0 320.3 L110.6 310.2 L108.0 295.8 L111.0 282.0 L116.9 280.0 L117.0 273.0Z M185.2 222.2 L243.5 226.2 L264.7 229.3 L263.7 243.3 L262.7 288.6 L249.5 288.0 L176.8 281.0Z M176.8 281.0 L249.5 288.0 L249.1 296.2 L246.0 330.0 L243.8 362.3 L198.0 357.8 L178.5 360.0 L177.8 363.8 L165.0 362.3Z M252.8 110.7 L285.0 112.0 L320.8 112.7 L323.0 130.0 L324.5 145.0 L325.8 158.0 L250.3 153.7Z M250.3 153.7 L325.8 158.0 L327.0 176.0 L328.3 193.5 L330.5 201.0 L330.0 206.5 L320.8 204.5 L310.7 203.3 L305.7 200.8 L246.6 197.5 L247.8 166.8Z M246.6 197.5 L305.7 200.8 L310.7 203.3 L320.8 204.5 L330.0 206.5 L331.2 209.0 L330.2 216.2 L334.2 224.3 L337.2 237.4 L339.3 244.4 L263.7 243.3 L264.7 229.3 L243.5 226.2Z M263.7 243.3 L339.3 244.4 L344.3 249.4 L348.3 256.5 L348.7 290.1 L262.7 288.6Z M249.5 288.0 L262.7 288.6 L348.7 290.1 L348.7 296.2 L349.7 306.2 L350.7 338.4 L348.7 339.4 L340.3 336.2 L326.3 336.7 L312.4 337.0 L300.2 334.7 L291.5 331.2 L285.3 327.4 L285.3 299.2 L249.1 296.2Z M249.1 296.2 L285.3 299.2 L285.3 327.4 L291.5 331.2 L300.2 334.7 L312.4 337.0 L326.3 336.7 L340.3 336.2 L348.7 339.4 L350.7 338.4 L355.7 343.5 L356.8 349.5 L358.2 360.2 L361.2 381.0 L361.2 395.5 L350.7 400.2 L343.7 403.7 L335.0 408.9 L326.3 414.0 L317.5 419.3 L310.6 433.2 L312.4 443.7 L314.0 454.1 L298.4 443.7 L288.0 435.0 L284.5 426.3 L277.6 414.0 L268.8 401.9 L263.6 396.7 L254.9 395.0 L247.9 396.7 L239.2 403.7 L235.7 400.2 L227.0 384.5 L214.8 372.3 L199.2 360.1 L198.0 357.8 L243.8 362.3 L246.0 330.0Z M320.8 112.7 L341.1 112.2 L341.1 108.1 L343.4 107.5 L344.0 111.6 L345.7 115.7 L349.8 117.4 L356.8 118.6 L363.7 118.6 L367.2 120.9 L373.0 123.2 L380.0 122.6 L384.6 123.8 L391.6 124.4 L396.2 125.0 L389.2 129.0 L382.3 134.8 L376.5 140.0 L371.8 144.4 L366.0 158.0 L367.3 173.1 L376.1 180.6 L382.5 192.1 L328.3 193.5 L327.0 176.0 L325.8 158.0 L324.5 145.0 L323.0 130.0Z M371.8 144.4 L377.6 143.6 L384.6 141.4 L391.9 145.1 L400.2 150.0 L410.0 154.0 L416.3 158.4 L415.5 166.0 L416.5 171.0 L423.8 163.2 L421.7 171.7 L423.8 180.2 L423.8 190.9 L426.0 201.5 L426.5 205.2 L391.6 206.2 L386.6 200.1 L382.5 192.1 L376.1 180.6 L367.3 173.1 L366.0 158.0Z M391.9 145.1 L402.6 139.8 L411.1 132.3 L413.2 134.5 L410.0 140.9 L415.3 141.9 L423.8 141.9 L432.3 141.9 L443.0 139.8 L447.2 143.0 L453.6 147.2 L460.0 148.3 L460.0 149.4 L449.4 148.3 L440.9 149.4 L430.2 152.6 L421.7 158.9 L417.4 162.0 L416.3 158.4 L410.0 154.0 L400.2 150.0Z M447.2 153.6 L453.6 154.7 L464.3 161.1 L465.3 171.7 L462.1 176.0 L470.6 178.1 L476.0 183.4 L478.1 193.0 L474.9 201.5 L470.6 207.9 L470.3 210.2 L456.2 211.2 L438.8 213.2 L437.7 210.0 L435.5 199.4 L434.5 188.7 L435.5 178.1 L438.7 168.5 L440.9 162.1 L445.1 156.8Z M328.3 193.5 L382.5 192.1 L386.6 200.1 L391.6 206.2 L395.6 215.2 L393.6 220.3 L386.6 227.3 L384.5 237.4 L337.2 237.4 L334.2 224.3 L330.2 216.2 L331.2 209.0 L330.0 206.5 L330.5 201.0Z M337.2 237.4 L384.5 237.4 L384.5 246.4 L390.6 252.5 L395.6 259.5 L398.6 264.6 L400.7 272.6 L408.7 280.7 L410.2 286.3 L408.0 291.0 L407.0 296.0 L405.0 300.0 L399.5 300.0 L399.0 295.2 L348.7 296.2 L348.7 290.1 L348.3 256.5 L344.3 249.4 L339.3 244.4Z M391.6 206.2 L426.5 205.2 L428.0 215.0 L428.3 240.0 L428.3 254.1 L429.3 262.1 L426.3 273.2 L410.2 286.3 L408.7 280.7 L400.7 272.6 L398.6 264.6 L395.6 259.5 L390.6 252.5 L384.5 246.4 L384.5 237.4 L386.6 227.3 L393.6 220.3 L395.6 215.2Z M428.0 215.0 L438.8 213.2 L456.2 211.2 L460.2 252.5 L458.5 255.0 L448.4 260.1 L436.4 271.2 L426.3 273.2 L429.3 262.1 L428.3 254.1 L428.3 240.0Z M456.2 211.2 L470.3 210.2 L478.3 214.2 L490.4 210.2 L500.5 205.2 L502.5 204.2 L505.5 233.3 L500.1 238.9 L497.6 242.7 L495.1 246.5 L492.6 249.0 L491.3 252.7 L488.2 260.3 L484.4 258.5 L476.0 257.5 L467.0 254.5 L460.2 252.5Z M410.2 286.3 L426.3 273.2 L436.4 271.2 L448.4 260.1 L458.5 255.0 L460.2 252.5 L467.0 254.5 L476.0 257.5 L484.4 258.5 L488.2 260.3 L490.1 265.3 L492.6 270.4 L496.4 271.6 L493.7 273.0 L480.7 285.5 L410.0 293.5 L408.0 291.0Z M408.5 294.4 L480.7 285.5 L497.8 282.9 L488.3 294.1 L475.2 303.1 L472.2 310.2 L458.1 313.2 L427.3 315.5 L403.1 316.5 L406.2 304.4Z M503.4 220.0 L504.8 220.0 L505.8 232.6 L519.0 232.1 L520.3 238.3 L523.4 238.3 L527.8 236.4 L532.8 235.1 L537.2 233.9 L539.1 234.5 L532.8 237.0 L530.3 240.2 L526.5 245.2 L522.8 251.5 L517.7 257.8 L517.1 265.3 L516.5 269.1 L512.7 271.6 L505.2 274.1 L500.1 274.1 L496.4 271.6 L492.6 270.4 L490.1 265.3 L488.2 260.3 L491.3 252.7 L492.6 249.0 L495.1 246.5 L497.6 242.7 L500.1 238.9 L505.0 233.6Z M539.1 234.5 L545.4 238.3 L549.2 238.9 L553.0 245.0 L556.1 249.4 L560.1 256.4 L559.1 262.5 L562.1 270.5 L563.9 272.5 L540.0 276.2 L497.8 282.9 L480.7 285.5 L493.7 273.0 L496.4 271.6 L500.1 274.1 L505.2 274.1 L512.7 271.6 L516.5 269.1 L517.1 265.3 L517.7 257.8 L522.8 251.5 L526.5 245.2 L530.3 240.2 L532.8 237.0Z M497.8 282.9 L540.0 276.2 L563.9 272.5 L566.0 276.0 L570.8 284.0 L568.8 288.1 L562.8 292.1 L560.8 300.1 L552.7 310.2 L544.7 317.2 L528.6 306.2 L516.5 307.2 L508.4 304.2 L494.4 306.2 L486.3 312.2 L472.2 310.2 L475.2 303.1 L488.3 294.1Z M486.3 312.2 L494.4 306.2 L508.4 304.2 L516.5 307.2 L528.6 306.2 L544.7 317.2 L538.6 323.3 L532.6 332.3 L524.5 340.4 L522.5 346.4 L515.5 340.4 L510.5 332.3 L500.4 324.3Z M458.1 313.2 L486.3 312.2 L500.4 324.3 L510.5 332.3 L515.5 340.4 L522.5 346.4 L519.5 360.5 L520.5 370.6 L516.6 369.1 L511.5 369.1 L510.5 374.1 L472.3 373.1 L470.2 352.5 L467.2 338.4Z M441.1 375.1 L472.3 373.1 L510.5 374.1 L511.5 369.1 L516.6 369.1 L518.6 376.1 L524.6 388.2 L532.7 400.3 L539.7 414.4 L544.7 426.4 L545.7 438.5 L542.7 444.5 L536.7 448.6 L526.6 440.5 L518.6 428.4 L510.5 420.4 L504.5 406.3 L505.5 398.2 L496.4 390.2 L486.4 384.2 L478.3 388.2 L470.3 390.2 L464.2 385.2 L452.1 382.1 L442.1 383.1Z M427.3 315.5 L458.1 313.2 L467.2 338.4 L470.2 352.5 L472.3 373.1 L441.1 375.1 L440.7 383.3 L434.7 380.3 L429.6 382.3Z M403.1 316.5 L427.3 315.5 L429.6 382.3 L428.5 383.3 L420.4 384.0 L413.6 384.6 L412.2 379.2 L389.2 378.6 L396.4 360.2 L391.4 349.1 L395.0 348.5 L394.1 344.0 L400.1 324.5Z M356.8 349.5 L391.4 349.1 L396.4 360.2 L389.2 378.6 L412.2 379.2 L413.6 384.6 L412.2 386.7 L408.2 386.0 L405.5 388.0 L408.2 390.1 L413.6 391.4 L417.7 390.1 L419.0 392.8 L415.0 396.8 L417.7 400.9 L420.4 404.9 L417.7 403.6 L413.6 400.9 L408.2 399.5 L401.4 402.2 L396.0 400.9 L390.6 399.5 L386.5 396.8 L383.8 395.5 L374.4 396.8 L363.5 396.8 L360.9 397.9 L362.2 380.3 L358.2 360.2Z M348.7 296.2 L399.0 295.2 L399.5 300.0 L405.0 300.0 L406.2 304.4 L403.1 316.5 L400.1 324.5 L394.1 344.0 L395.0 348.5 L391.4 349.1 L356.8 349.5 L355.7 343.5 L350.7 338.4 L349.7 306.2Z M502.5 204.2 L509.5 199.1 L510.5 200.1 L557.8 190.6 L565.7 199.7 L564.7 205.5 L563.6 209.8 L565.2 213.0 L570.5 216.7 L565.7 220.4 L561.5 223.6 L560.1 225.5 L519.0 232.1 L506.5 233.9 L505.5 233.3Z M510.5 200.1 L509.5 199.1 L510.1 195.6 L520.2 188.6 L515.2 182.5 L518.2 179.5 L530.3 176.5 L541.3 166.4 L542.3 160.4 L552.4 146.3 L568.3 143.8 L578.2 174.7 L578.7 184.8 L579.2 198.8 L577.5 202.9 L576.9 202.9 L565.7 199.7 L557.8 190.6Z M576.5 205.0 L582.0 201.5 L590.0 198.0 L596.0 195.8 L594.5 199.0 L588.0 202.5 L581.0 206.5 L577.5 208.5Z M565.7 199.7 L576.9 202.9 L575.9 205.5 L574.3 208.7 L575.9 210.9 L578.0 214.0 L577.5 220.4 L575.9 224.7 L573.7 230.0 L571.1 233.2 L568.4 230.0 L564.2 226.8 L561.5 223.6 L565.7 220.4 L570.5 216.7 L565.2 213.0 L563.6 209.8 L564.7 205.5Z M561.5 223.6 L563.8 227.2 L565.2 233.3 L570.2 237.3 L572.2 243.3 L568.2 244.0 L565.2 242.3 L562.1 232.3 L560.1 225.5Z M519.0 232.1 L560.1 225.5 L562.1 232.3 L565.2 242.3 L572.2 243.8 L571.2 247.4 L568.2 250.4 L564.2 250.4 L559.1 247.0 L556.1 249.4 L553.0 245.0 L549.2 238.9 L545.4 238.3 L539.1 234.5 L537.2 233.9 L532.8 235.1 L527.8 236.4 L523.4 238.3 L520.3 238.3Z M564.0 251.0 L570.0 250.5 L568.5 256.0 L566.5 259.5 L565.5 255.0Z M568.3 143.8 L587.4 139.1 L588.5 144.9 L584.5 150.7 L584.5 172.8 L578.2 174.7Z M587.4 131.6 L593.8 143.2 L597.2 152.5 L600.1 160.6 L601.9 164.0 L602.6 167.0 L601.3 169.8 L584.5 172.8 L584.5 150.7 L588.5 144.9 L587.4 139.1Z M600.0 97.2 L606.1 96.3 L611.0 97.0 L614.5 101.0 L619.4 109.8 L623.6 120.4 L630.0 125.7 L633.2 128.9 L630.0 132.1 L621.5 137.4 L615.1 143.8 L608.7 150.2 L603.4 160.9 L602.6 167.0 L601.9 164.0 L600.1 160.6 L597.2 152.5 L593.8 143.2 L587.4 131.6 L593.9 128.5 L596.5 119.8 L595.7 114.6 L597.4 105.9Z M578.2 174.7 L584.5 172.8 L601.3 169.8 L602.4 173.2 L605.3 177.6 L609.1 180.5 L614.0 178.5 L615.4 180.0 L611.1 183.4 L607.2 183.4 L603.3 184.4 L601.4 181.9 L597.5 183.4 L578.7 184.8Z M597.5 183.4 L601.4 181.9 L603.3 184.4 L601.5 188.2 L598.0 190.1Z M578.7 184.8 L597.5 183.4 L598.0 190.1 L588.8 193.0 L579.2 198.8Z" fill="none"/></g>
<polyline points="558.3,228.5 557.2,235 557.8,242 560.5,249 563.2,255.5 564.6,261" fill="none" stroke="#d8e6f7" stroke-width="1.6" stroke-linecap="round"/>
<g stroke="none">
<path d="M50.6 377.6 L62.8 370.8 L75.0 366.8 L83.1 366.8 L91.2 370.8 L99.3 374.9 L112.9 376.2 L118.3 377.6 L122.3 381.7 L123.7 454.8 L129.1 456.1 L137.2 458.8 L145.3 460.1 L150.7 462.9 L161.5 476.4 L171.0 483.2 L173.7 488.6 L171.0 494.0 L162.9 494.0 L156.1 487.3 L148.0 473.7 L139.9 466.9 L133.1 462.9 L126.4 460.1 L123.7 457.4 L114.5 454.0 L107.6 452.3 L100.6 450.5 L95.0 451.5 L90.0 455.5 L85.0 457.5 L86.0 452.0 L90.0 446.5 L84.5 450.5 L80.0 454.0 L77.9 455.7 L69.2 461.0 L60.5 469.7 L48.3 476.6 L36.1 481.9 L27.4 483.3 L18.7 483.6 L27.4 481.9 L36.1 479.3 L44.8 474.9 L51.8 469.7 L57.0 464.5 L60.1 460.1 L53.3 458.8 L43.8 456.1 L41.1 449.3 L33.0 441.2 L31.7 431.8 L35.7 426.3 L45.2 422.3 L54.7 418.2 L56.0 413.0 L46.5 410.1 L41.1 406.0 L39.8 396.5 L50.6 395.2 L57.4 399.3 L56.5 392.5 L52.9 383.2Z" fill="#7fb4e6"/>
<path d="M226.4 435.9 L229.6 436.4 L232.8 438.0 L236.0 441.2 L239.7 445.4 L238.1 447.6 L233.8 449.7 L229.6 452.9 L228.0 451.8 L227.4 447.6 L225.9 441.2Z" fill="#61a5e1"/>
<path d="M215.2 424.7 L217.3 424.2 L220.0 425.7 L223.2 426.8 L223.7 428.4 L222.1 428.9 L218.9 427.9 L216.3 426.8Z" fill="#61a5e1"/>
<path d="M206.7 422.6 L213.6 423.3 L213.6 424.7 L207.2 424.2Z" fill="#61a5e1"/>
<path d="M209.9 426.3 L213.1 426.8 L212.6 429.5 L211.0 428.4Z" fill="#61a5e1"/>
<path d="M192.9 415.6 L196.1 414.8 L200.3 418.3 L198.7 419.9 L195.0 418.8Z" fill="#61a5e1"/>
<path d="M172.1 409.3 L174.8 407.3 L177.7 409.3 L174.8 411.2Z" fill="#61a5e1"/>
</g>
<rect x="504" y="411.2" width="36.75" height="5.9" fill="#0664c9"/><text x="0" y="106.20" class="ab" fill="#fff" transform="translate(88.00,0) scale(1.08,1)">WA</text><text x="0" y="113.00" class="vl" fill="#fff" transform="translate(88.00,0) scale(1.04,1)">$1,476,470.63</text>
<text x="0" y="154.00" class="ab" fill="#fff" transform="translate(72.80,0) scale(1.08,1)">OR</text><text x="0" y="160.80" class="vl" fill="#fff" transform="translate(72.80,0) scale(1.04,1)">$802,188.94</text>
<text x="0" y="253.75" class="ab" fill="#fff" transform="translate(53.90,0) scale(1.08,1)">CA</text><text x="0" y="260.55" class="vl" fill="#fff" transform="translate(53.90,0) scale(1.04,1)">$5,173,209.06</text>
<text x="0" y="226.50" class="ab" fill="#fff" transform="translate(96.60,0) scale(1.08,1)">NV</text><text x="0" y="233.30" class="vl" fill="#fff" transform="translate(96.60,0) scale(1.04,1)">$503,406.16</text>
<text x="0" y="172.25" class="ab" fill="#fff" transform="translate(137.20,0) scale(1.08,1)">ID</text><text x="0" y="179.05" class="vl" fill="#fff" transform="translate(137.20,0) scale(1.04,1)">$312,914.43</text>
<text x="0" y="133.75" class="ab" fill="#fff" transform="translate(195.50,0) scale(1.08,1)">MT</text><text x="0" y="140.55" class="vl" fill="#fff" transform="translate(195.50,0) scale(1.04,1)">$296,561.99</text>
<text x="0" y="194.00" class="ab" fill="#0d1b33" transform="translate(205.90,0) scale(1.08,1)">WY</text><text x="0" y="200.80" class="vl" fill="#0d1b33" transform="translate(205.90,0) scale(1.04,1)">$199,591.86</text>
<text x="0" y="238.50" class="ab" fill="#fff" transform="translate(154.40,0) scale(1.08,1)">UT</text><text x="0" y="245.30" class="vl" fill="#fff" transform="translate(154.40,0) scale(1.04,1)">$445,935.54</text>
<text x="0" y="313.80" class="ab" fill="#fff" transform="translate(141.75,0) scale(1.08,1)">AZ</text><text x="0" y="320.60" class="vl" fill="#fff" transform="translate(141.75,0) scale(1.04,1)">$1,299,329.47</text>
<text x="0" y="255.40" class="ab" fill="#fff" transform="translate(221.00,0) scale(1.08,1)">CO</text><text x="0" y="262.20" class="vl" fill="#fff" transform="translate(221.00,0) scale(1.04,1)">$1,080,727.10</text>
<text x="0" y="324.00" class="ab" fill="#fff" transform="translate(210.40,0) scale(1.08,1)">NM</text><text x="0" y="330.80" class="vl" fill="#fff" transform="translate(210.40,0) scale(1.04,1)">$389,138.74</text>
<text x="0" y="134.75" class="ab" fill="#0d1b33" transform="translate(288.60,0) scale(1.08,1)">ND</text><text x="0" y="141.55" class="vl" fill="#0d1b33" transform="translate(288.60,0) scale(1.04,1)">$187,817.21</text>
<text x="0" y="178.50" class="ab" fill="#0d1b33" transform="translate(289.40,0) scale(1.08,1)">SD</text><text x="0" y="185.30" class="vl" fill="#0d1b33" transform="translate(289.40,0) scale(1.04,1)">$190,408.15</text>
<text x="0" y="225.15" class="ab" fill="#fff" transform="translate(289.30,0) scale(1.08,1)">NE</text><text x="0" y="231.95" class="vl" fill="#fff" transform="translate(289.30,0) scale(1.04,1)">$462,200.51</text>
<text x="0" y="268.90" class="ab" fill="#fff" transform="translate(303.10,0) scale(1.08,1)">KS</text><text x="0" y="275.70" class="vl" fill="#fff" transform="translate(303.10,0) scale(1.04,1)">$551,487.90</text>
<text x="0" y="312.15" class="ab" fill="#fff" transform="translate(315.50,0) scale(1.08,1)">OK</text><text x="0" y="318.95" class="vl" fill="#fff" transform="translate(315.50,0) scale(1.04,1)">$516,790.84</text>
<text x="0" y="374.60" class="ab" fill="#fff" transform="translate(295.30,0) scale(1.08,1)">TX</text><text x="0" y="381.40" class="vl" fill="#fff" transform="translate(295.30,0) scale(1.04,1)">$3,696,481.39</text>
<text x="0" y="144.60" class="ab" fill="#fff" transform="translate(348.00,0) scale(1.08,1)">MN</text><text x="0" y="151.40" class="vl" fill="#fff" transform="translate(348.00,0) scale(1.04,1)">$1,234,869.96</text>
<text x="0" y="212.60" class="ab" fill="#fff" transform="translate(359.20,0) scale(1.08,1)">IA</text><text x="0" y="219.40" class="vl" fill="#fff" transform="translate(359.20,0) scale(1.04,1)">$263,674.22</text>
<text x="0" y="273.40" class="ab" fill="#fff" transform="translate(374.40,0) scale(1.08,1)">MO</text><text x="0" y="280.20" class="vl" fill="#fff" transform="translate(374.40,0) scale(1.04,1)">$1,066,298.81</text>
<text x="0" y="318.60" class="ab" fill="#fff" transform="translate(374.50,0) scale(1.08,1)">AR</text><text x="0" y="325.40" class="vl" fill="#fff" transform="translate(374.50,0) scale(1.04,1)">$498,343.89</text>
<text x="0" y="381.40" class="ab" fill="#fff" transform="translate(380.50,0) scale(1.08,1)">LA</text><text x="0" y="388.20" class="vl" fill="#fff" transform="translate(380.50,0) scale(1.04,1)">$651,062.69</text>
<text x="0" y="172.10" class="ab" fill="#fff" transform="translate(396.30,0) scale(1.08,1)">WI</text><text x="0" y="178.90" class="vl" fill="#fff" transform="translate(396.30,0) scale(1.04,1)">$1,271,500.12</text>
<text x="0" y="230.60" class="ab" fill="#fff" transform="translate(407.10,0) scale(1.08,1)">IL</text><text x="0" y="237.40" class="vl" fill="#fff" transform="translate(407.10,0) scale(1.04,1)">$2,091,312.20</text>
<text x="0" y="191.10" class="ab" fill="#fff" transform="translate(456.40,0) scale(1.08,1)">MI</text><text x="0" y="197.90" class="vl" fill="#fff" transform="translate(456.40,0) scale(1.04,1)">$1,726,362.41</text>
<text x="0" y="241.60" class="ab" fill="#fff" transform="translate(443.90,0) scale(1.08,1)">IN</text><text x="0" y="248.40" class="vl" fill="#fff" transform="translate(443.90,0) scale(1.04,1)">$1,164,902.85</text>
<text x="0" y="229.60" class="ab" fill="#fff" transform="translate(479.80,0) scale(1.08,1)">OH</text><text x="0" y="236.40" class="vl" fill="#fff" transform="translate(479.80,0) scale(1.04,1)">$2,112,952.02</text>
<text x="0" y="273.65" class="ab" fill="#fff" transform="translate(461.70,0) scale(1.08,1)">KY</text><text x="0" y="280.45" class="vl" fill="#fff" transform="translate(461.70,0) scale(1.04,1)">$631,193.92</text>
<text x="0" y="301.50" class="ab" fill="#fff" transform="translate(447.50,0) scale(1.08,1)">TN</text><text x="0" y="308.30" class="vl" fill="#fff" transform="translate(447.50,0) scale(1.04,1)">$988,310.97</text>
<text x="0" y="346.10" class="ab" fill="#fff" transform="translate(410.00,0) scale(1.08,1)">MS</text><text x="0" y="352.90" class="vl" fill="#fff" transform="translate(410.00,0) scale(1.04,1)">$355,781.14</text>
<text x="0" y="346.50" class="ab" fill="#fff" transform="translate(447.80,0) scale(1.08,1)">AL</text><text x="0" y="353.30" class="vl" fill="#fff" transform="translate(447.80,0) scale(1.04,1)">$602,495.82</text>
<text x="0" y="345.25" class="ab" fill="#fff" transform="translate(492.60,0) scale(1.08,1)">GA</text><text x="0" y="352.05" class="vl" fill="#fff" transform="translate(492.60,0) scale(1.04,1)">$1,371,987.96</text>
<text x="0" y="319.00" class="ab" fill="#fff" transform="translate(519.70,0) scale(1.08,1)">SC</text><text x="0" y="325.80" class="vl" fill="#fff" transform="translate(519.70,0) scale(1.04,1)">$888,805.25</text>
<text x="0" y="293.25" class="ab" fill="#fff" transform="translate(532.20,0) scale(1.08,1)">NC</text><text x="0" y="300.05" class="vl" fill="#fff" transform="translate(532.20,0) scale(1.04,1)">$1,618,973.78</text>
<text x="0" y="263.75" class="ab" fill="#fff" transform="translate(538.90,0) scale(1.08,1)">VA</text><text x="0" y="270.55" class="vl" fill="#fff" transform="translate(538.90,0) scale(1.04,1)">$1,420,509.29</text>
<text x="0" y="257.30" class="ab" fill="#fff" transform="translate(502.60,0) scale(1.08,1)">WV</text><text x="0" y="264.10" class="vl" fill="#fff" transform="translate(502.60,0) scale(1.04,1)">$366,639.03</text>
<text x="0" y="213.85" class="ab" fill="#fff" transform="translate(534.50,0) scale(1.08,1)">PA</text><text x="0" y="220.65" class="vl" fill="#fff" transform="translate(534.50,0) scale(1.04,1)">$2,594,728.87</text>
<text x="0" y="178.10" class="ab" fill="#fff" transform="translate(555.70,0) scale(1.08,1)">NY</text><text x="0" y="184.90" class="vl" fill="#fff" transform="translate(555.70,0) scale(1.04,1)">$3,208,869.53</text>
<text x="0" y="124.70" class="ab" fill="#fff" transform="translate(611.10,0) scale(1.08,1)">ME</text><text x="0" y="131.50" class="vl" fill="#fff" transform="translate(611.10,0) scale(1.04,1)">$276,585.27</text>
<text x="0" y="409.40" class="ab" fill="#fff" transform="translate(522.30,0) scale(1.08,1)">FL</text><text x="0" y="416.20" class="vl" fill="#fff" transform="translate(522.30,0) scale(1.04,1)">$3,702,012.03</text>
<text x="0" y="420.00" class="ab" fill="#0d1b33" transform="translate(87.85,0) scale(1.08,1)">AK</text><text x="0" y="426.80" class="vl" fill="#0d1b33" transform="translate(87.85,0) scale(1.04,1)">$112,205.82</text><polyline points="580.6,100.2 590.6,140.6" fill="none" stroke="#14213a" stroke-width="0.9"/><rect x="538.5" y="92.3" width="42.5" height="17.8" fill="#61a5e1"/><text x="0" y="101.10" class="ab" fill="#fff" transform="translate(559.75,0) scale(1.1,1)">NH</text><text x="0" y="108.10" class="vl" fill="#fff" transform="translate(559.75,0) scale(1.04,1)">$314,334.29</text>
<polyline points="561.9,125.8 576.8,144.9" fill="none" stroke="#14213a" stroke-width="0.9"/><rect x="519.8" y="117.2" width="42.5" height="17.8" fill="#7fb4e6"/><text x="0" y="126.00" class="ab" fill="#0d1b33" transform="translate(541.05,0) scale(1.1,1)">VT</text><text x="0" y="133.00" class="vl" fill="#0d1b33" transform="translate(541.05,0) scale(1.04,1)">$131,124.36</text>
<polyline points="628.9,152.3 596.7,176.5" fill="none" stroke="#14213a" stroke-width="0.9"/><rect x="628.9" y="140.3" width="42.5" height="17.8" fill="#0b72d4"/><text x="0" y="149.10" class="ab" fill="#fff" transform="translate(650.15,0) scale(1.1,1)">MA</text><text x="0" y="156.10" class="vl" fill="#fff" transform="translate(650.15,0) scale(1.04,1)">$1,254,699.20</text>
<polyline points="628.9,170.5 599.7,185.6" fill="none" stroke="#14213a" stroke-width="0.9"/><rect x="628.9" y="161.4" width="42.5" height="17.8" fill="#7fb4e6"/><text x="0" y="170.20" class="ab" fill="#0d1b33" transform="translate(650.15,0) scale(1.1,1)">RI</text><text x="0" y="177.20" class="vl" fill="#0d1b33" transform="translate(650.15,0) scale(1.04,1)">$198,695.85</text>
<polyline points="619.9,192.5 588.6,192.5" fill="none" stroke="#14213a" stroke-width="0.9"/><rect x="619.9" y="182.6" width="42.5" height="17.8" fill="#2282d5"/><text x="0" y="191.40" class="ab" fill="#fff" transform="translate(641.15,0) scale(1.1,1)">CT</text><text x="0" y="198.40" class="vl" fill="#fff" transform="translate(641.15,0) scale(1.04,1)">$705,803.42</text>
<polyline points="608.4,213.5 576.2,213.5" fill="none" stroke="#14213a" stroke-width="0.9"/><rect x="608.4" y="204.5" width="42.5" height="17.8" fill="#0a56be"/><text x="0" y="213.30" class="ab" fill="#fff" transform="translate(629.65,0) scale(1.1,1)">NJ</text><text x="0" y="220.30" class="vl" fill="#fff" transform="translate(629.65,0) scale(1.04,1)">$1,594,600.88</text>
<polyline points="589.9,233.5 566.0,233.5" fill="none" stroke="#14213a" stroke-width="0.9"/><rect x="589.9" y="226.2" width="42.5" height="17.8" fill="#61a5e1"/><text x="0" y="235.00" class="ab" fill="#fff" transform="translate(611.15,0) scale(1.1,1)">DE</text><text x="0" y="242.00" class="vl" fill="#fff" transform="translate(611.15,0) scale(1.04,1)">$215,291.40</text>
<polyline points="589.9,256.4 570.2,246.4" fill="none" stroke="#14213a" stroke-width="0.9"/><rect x="589.9" y="247.8" width="42.5" height="17.8" fill="#0b72d4"/><text x="0" y="256.60" class="ab" fill="#fff" transform="translate(611.15,0) scale(1.1,1)">MD</text><text x="0" y="263.60" class="vl" fill="#fff" transform="translate(611.15,0) scale(1.04,1)">$1,189,837.15</text>
<polyline points="578.9,277.6 548.0,238.3" fill="none" stroke="#14213a" stroke-width="0.9"/><rect x="578.9" y="269.1" width="42.5" height="17.8" fill="#7fb4e6"/><text x="0" y="277.90" class="ab" fill="#0d1b33" transform="translate(600.15,0) scale(1.1,1)">DC</text><text x="0" y="284.90" class="vl" fill="#0d1b33" transform="translate(600.15,0) scale(1.04,1)">$100,971.62</text>
<polyline points="214.5,443.3 226.4,444.9" fill="none" stroke="#14213a" stroke-width="0.9"/><rect x="172.7" y="435.6" width="42.5" height="17.8" fill="#61a5e1"/><text x="0" y="444.40" class="ab" fill="#fff" transform="translate(193.95,0) scale(1.1,1)">HI</text><text x="0" y="451.40" class="vl" fill="#fff" transform="translate(193.95,0) scale(1.04,1)">$276,736.58</text><rect x="686.5" y="248.7" width="93.5" height="17.4" fill="#96c3ec"/><text x="0" y="257.5" class="tt" transform="translate(733.25,0) scale(0.91,1)">AMERICAN SAMOA</text><text x="733.2" y="264.3" class="tv">$260.00</text>
<rect x="686.5" y="270.6" width="93.5" height="17.4" fill="#96c3ec"/><text x="0" y="279.4" class="tt" transform="translate(733.25,0) scale(0.91,1)">GUAM</text><text x="733.2" y="286.2" class="tv">$1,349.97</text>
<rect x="686.5" y="292.6" width="93.5" height="17.4" fill="#96c3ec"/><text x="0" y="301.4" class="tt" transform="translate(733.25,0) scale(0.91,1)">PUERTO RICO</text><text x="733.2" y="308.2" class="tv">$10,351.44</text>
<rect x="686.5" y="314.5" width="93.5" height="17.4" fill="#96c3ec"/><text x="0" y="323.3" class="tt" transform="translate(733.25,0) scale(0.91,1)">VIRGIN ISLANDS</text><text x="733.2" y="330.1" class="tv">$3,423.69</text>
<rect x="686.5" y="336.2" width="93.5" height="17.4" fill="#96c3ec"/><text x="0" y="345.0" class="tt" transform="translate(733.25,0) scale(0.91,1)">CANADA</text><text x="733.2" y="351.8" class="tv">$50.00</text>
<rect x="686.5" y="358.6" width="93.5" height="29.1" fill="#96c3ec"/><text x="0" y="366.8" class="tt" transform="translate(733.25,0) scale(0.91,1)">AE</text><text x="733.2" y="373.5" class="ts">(ARMED FORCES EUROPE,</text><text x="733.2" y="379.3" class="ts">MIDDLE EAST, CANADA)</text><text x="733.2" y="386.1" class="tv">$1,408.49</text>
<rect x="686.5" y="392.3" width="93.5" height="28.7" fill="#96c3ec"/><text x="0" y="402.6" class="tt" transform="translate(733.25,0) scale(0.91,1)">AP</text><text x="733.2" y="409.3" class="ts">(ARMED FORCES PACIFIC)</text><text x="733.2" y="416.1" class="tv">$1,267.96</text>
</svg>
<svg width="800" height="517" viewBox="0 0 800 517"><rect x="613" y="453.7" width="187" height="48.3" fill="#0a53ba"/>
<text x="624.2" y="470.6" font-size="10.3px" fill="#fff" textLength="114" lengthAdjust="spacing">TOTAL DISTRIBUTION</text>
<text x="623.6" y="489.8" font-size="18.4px" font-weight="bold" fill="#fff" textLength="155" lengthAdjust="spacingAndGlyphs">$53,885,244.07</text></svg>
</body></html>
